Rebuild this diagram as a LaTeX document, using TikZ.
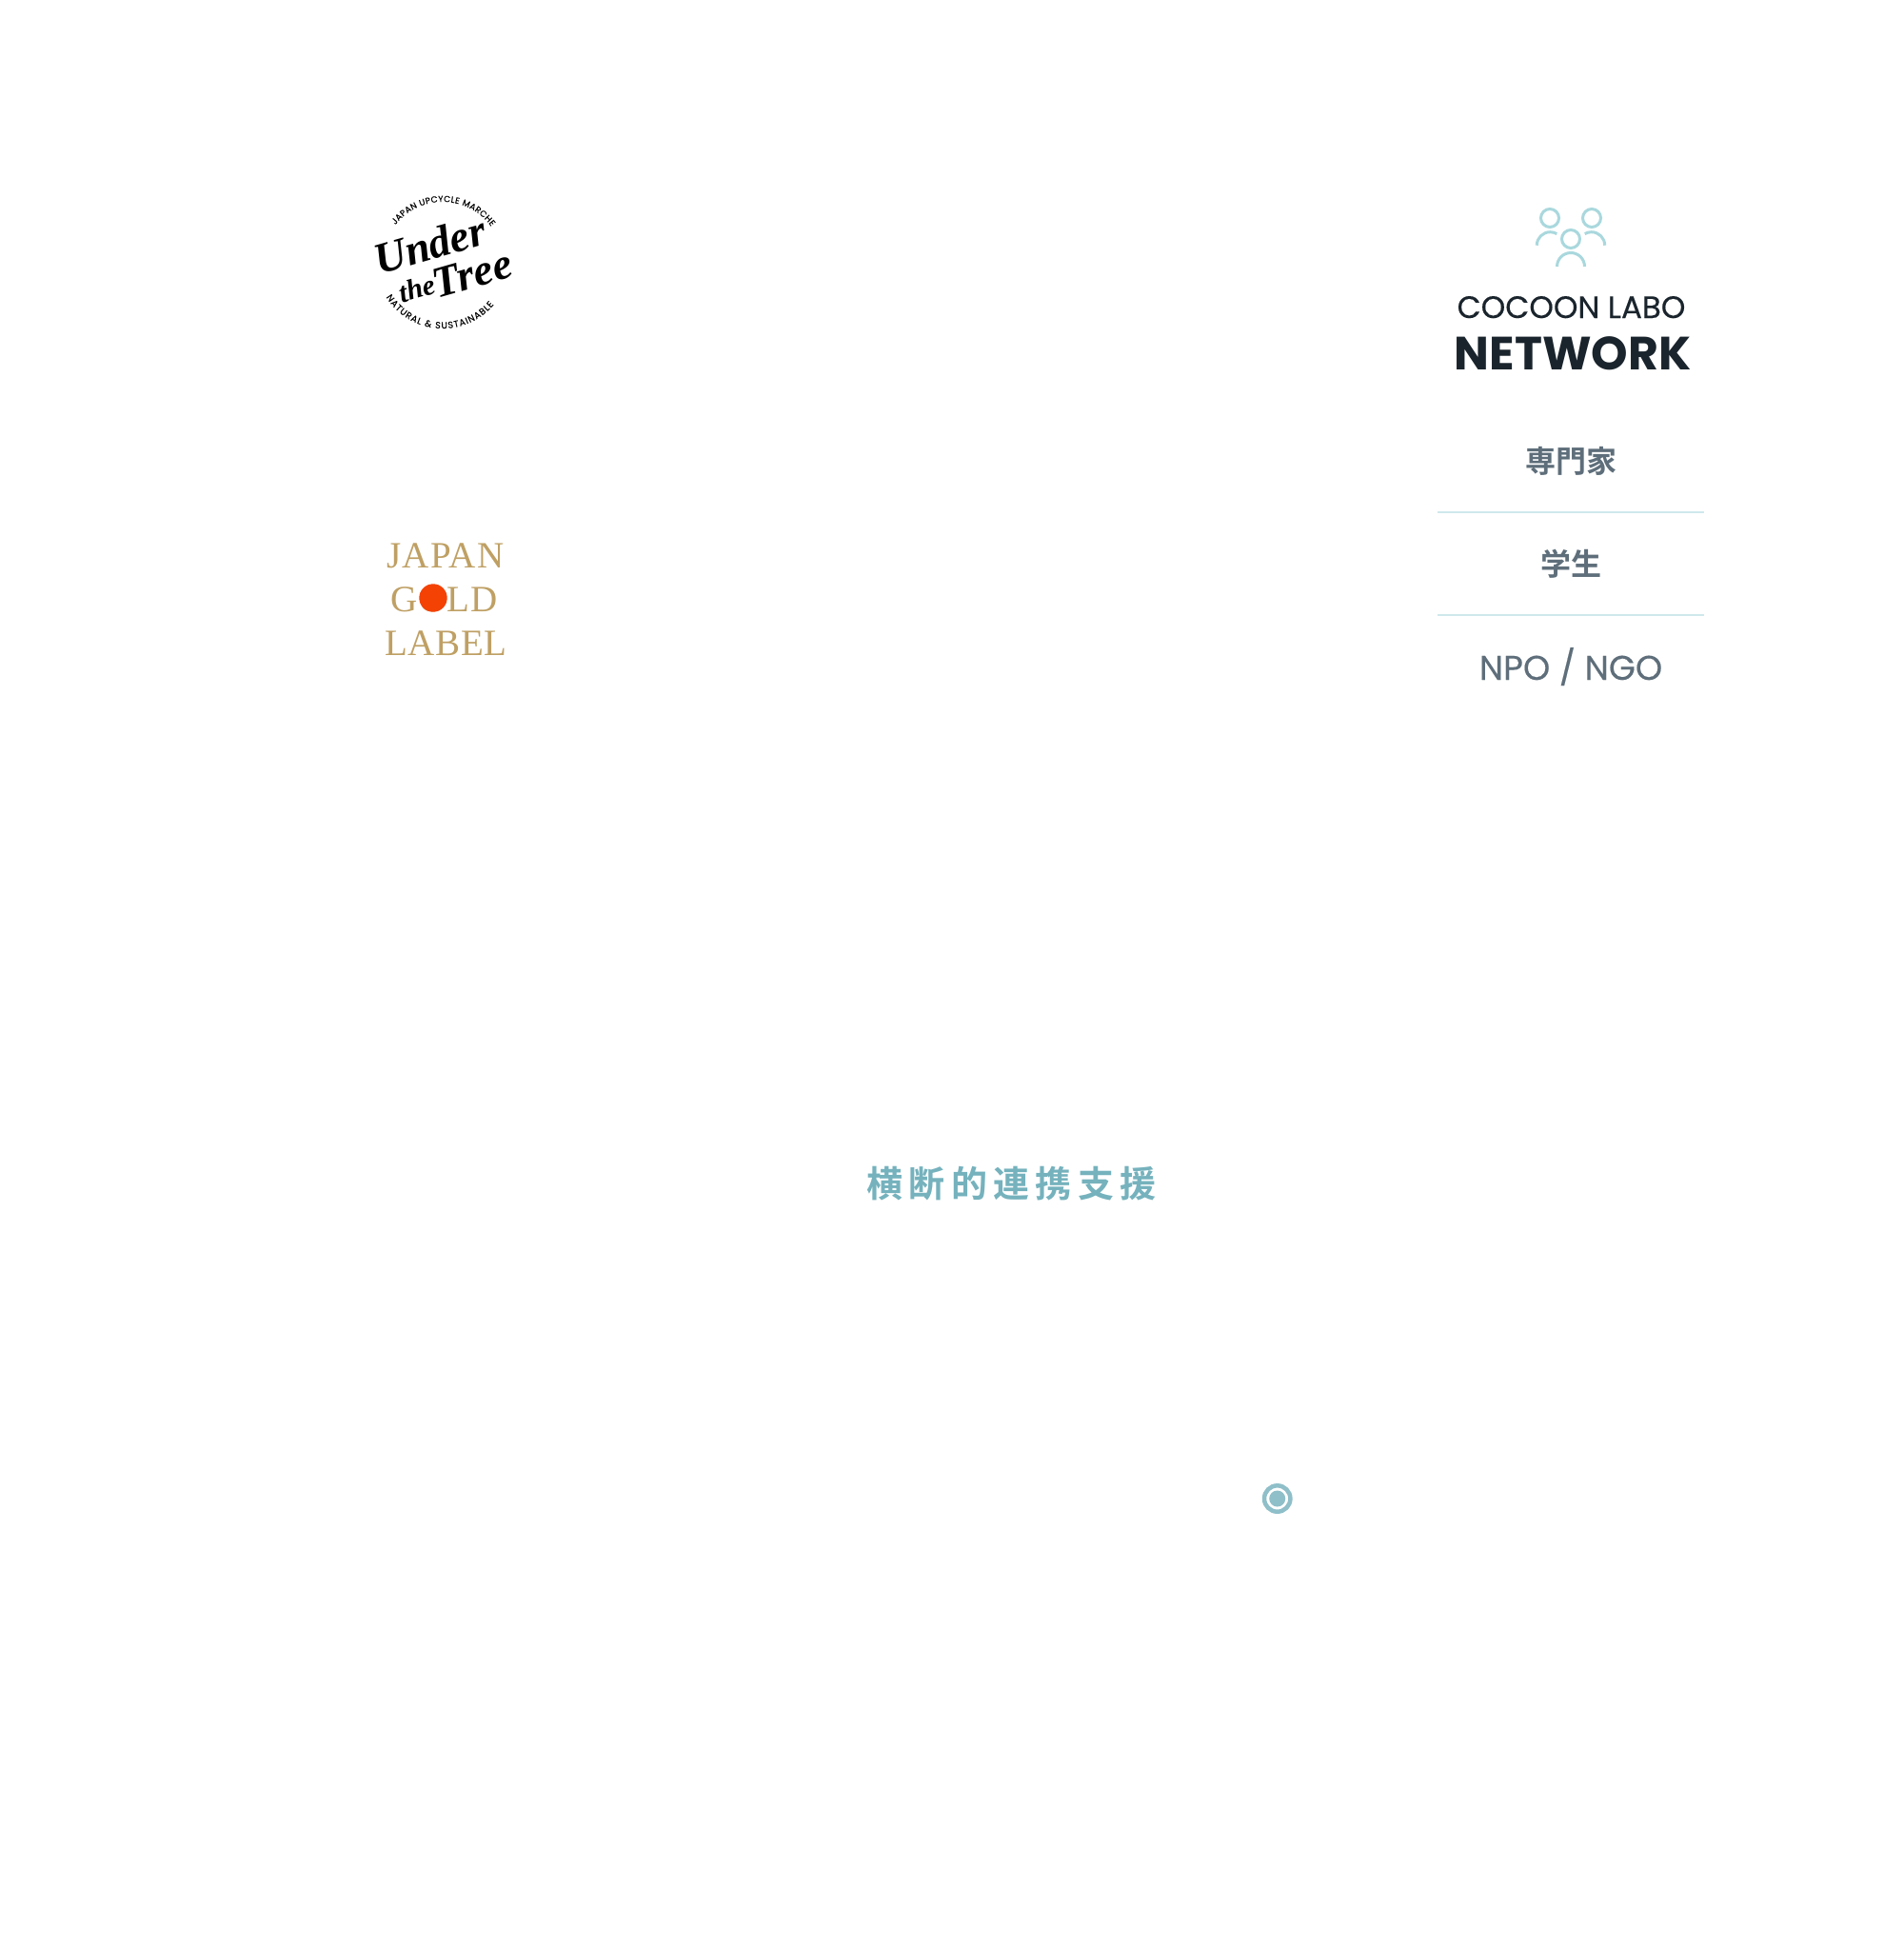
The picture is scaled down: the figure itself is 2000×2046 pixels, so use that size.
\documentclass[tikz,border=0pt]{standalone}
\usepackage{fontspec}
\usetikzlibrary{decorations.text}
\setmainfont{Liberation Serif}
\newfontfamily\pop{Poppins}
\newfontfamily\popg[FakeBold=0.3]{Poppins}
\newfontfamily\cjkm{Noto Sans CJK JP Bold}
\newfontfamily\cjkb[LetterSpace=16.5]{Noto Sans CJK JP Bold}
\newfontfamily\gold[LetterSpace=3.3]{Liberation Serif}
\newfontfamily\goldt[LetterSpace=1.5]{Liberation Serif}
\newfontfamily\arcf[FakeBold=0.2]{Poppins}
\newfontfamily\scr{Liberation Serif Bold Italic}
\definecolor{ink}{HTML}{1A242C}
\definecolor{slate}{HTML}{5E6E7A}
\definecolor{mist}{HTML}{A9D8DD}
\definecolor{rule}{HTML}{CFE8EC}
\definecolor{teal}{HTML}{75B2BD}
\definecolor{tan}{HTML}{BFA064}
\definecolor{sun}{HTML}{F44205}
\definecolor{dotc}{HTML}{8FBFC9}
\tikzset{
  txt/.style={inner sep=0pt,outer sep=0pt,anchor=base},
  iconline/.style={draw=mist,line width=3pt,fill=none},
  divider/.style={draw=rule,line width=2pt},
  scriptlbl/.style={txt,text=black,rotate=16},
  goldlbl/.style={txt,text=tan},
  slatelbl/.style={txt,text=slate}
}
\begin{document}
\begin{tikzpicture}[x=1pt,y=1pt]
\useasboundingbox (0,0) rectangle (2000,-2046);
\fill[white] (0,0) rectangle (2000,-2046);
% Under the Tree
\path[decorate,decoration={text along path,text align={fit to path},text={|\arcf\fontsize{9}{10}\selectfont|JAPAN UPCYCLE MARCHE}}]
  (465,-275) ++(142:63) arc[start angle=142,end angle=36,radius=63];
\path[decorate,decoration={text along path,text align={fit to path},text={|\arcf\fontsize{9.5}{11}\selectfont|NATURAL {\&} SUSTAINABLE}}]
  (465,-275) ++(212:70) arc[start angle=212,end angle=320,radius=70];
\node[scriptlbl,font=\scr\fontsize{46}{46}\selectfont] (under) at (456,-272) {Under};
\node[scriptlbl,font=\scr\fontsize{30}{30}\selectfont] (the) at (441,-313) {the};
\node[scriptlbl,font=\scr\fontsize{46}{46}\selectfont] (tree) at (500,-302) {Tree};
% Japan Gold Label
\node[goldlbl,font=\gold\fontsize{39}{40}\selectfont] (japan) at (468,-596) {JAPAN};
\node[goldlbl,font=\gold\fontsize{39}{40}\selectfont] (goldw) at (467,-642.5) {GOLD};
\node[goldlbl,font=\goldt\fontsize{39}{40}\selectfont] (label) at (468.5,-688) {LABEL};
\fill[sun] (455,-628) circle[radius=14.7];
% Icon
\draw[iconline] (1628,-229) circle[radius=9.5];
\draw[iconline] (1672,-229) circle[radius=9.5];
\draw[iconline] (1650,-251) circle[radius=9.5];
\draw[iconline] (1650,-280) ++(180:14.5) arc[start angle=180,end angle=0,radius=14.5];
\draw[iconline] (1628.3,-257.7) ++(180:14) arc[start angle=180,end angle=60,radius=14];
\draw[iconline] (1671.7,-257.7) ++(0:14) arc[start angle=0,end angle=120,radius=14];
% Title
\node[txt,text=ink,font=\popg\fontsize{32.5}{32}\selectfont] (cocoon) at (1650.5,-334) {COCOON LABO};
\node[txt,text=ink,font=\pop\bfseries\fontsize{49}{49}\selectfont] (network) at (1652,-388.5) {NETWORK};
% List
\node[slatelbl,font=\cjkm\fontsize{32}{32}\selectfont] (expert) at (1650,-496) {専門家};
\draw[divider] (1510,-538) -- (1790,-538);
\node[slatelbl,font=\cjkm\fontsize{32}{32}\selectfont] (student) at (1650,-604) {学生};
\draw[divider] (1510,-646) -- (1790,-646);
\node[slatelbl,font=\popg\fontsize{36}{36}\selectfont] (npo) at (1650,-714) {NPO / NGO};
% Centre label
\node[txt,text=teal,font=\cjkb\fontsize{38}{38}\selectfont] (cross) at (1062.5,-1257) {横断的連携支援};
% Marker
\draw[dotc,line width=4.5pt] (1341.7,-1574) circle[radius=13.7];
\fill[dotc] (1341.7,-1574) circle[radius=8.5];
\end{tikzpicture}
\end{document}
